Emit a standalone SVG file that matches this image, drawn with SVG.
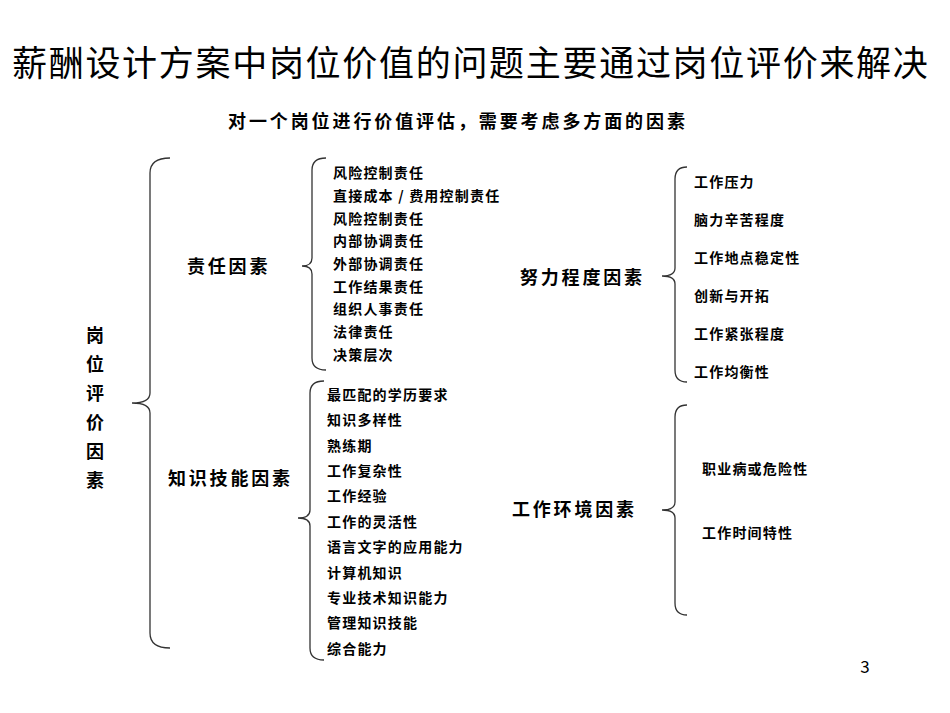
<svg xmlns="http://www.w3.org/2000/svg" width="950" height="713" viewBox="0 0 950 713">
<style>
text{font-family:"Noto Sans CJK SC","Noto Sans",sans-serif;fill:#000}
.it{font-size:14px;font-weight:bold;letter-spacing:1.2px}
.lb{font-size:18px;font-weight:bold;letter-spacing:2.8px}
.br{fill:none;stroke:#333;stroke-width:1.3}
</style>
<rect width="950" height="713" fill="#fff"/>
<text x="12" y="76" font-size="35" letter-spacing="1.7">薪酬设计方案中岗位价值的问题主要通过岗位评价来解决</text>
<text x="228" y="128" font-size="18" font-weight="bold" letter-spacing="2.9">对一个岗位进行价值评估，需要考虑多方面的因素</text>
<g id="connectors">
<path class="br" d="M170,158 Q150,158 150,173 L150,393 Q150,403 132,403 Q150,403 150,413 L150,633 Q150,648 170,648"/>
<path class="br" d="M326,158 Q312,158 312,170 L312,258 Q312,266 302,266 Q312,266 312,274 L312,358 Q312,370 326,370"/>
<path class="br" d="M324,381 Q310,381 310,393 L310,510 Q310,518 298,518 Q310,518 310,526 L310,648 Q310,660 324,660"/>
<path class="br" d="M687,167 Q675,167 675,179 L675,268 Q675,276 662,276 Q675,276 675,284 L675,370 Q675,382 687,382"/>
<path class="br" d="M687,405 Q675,405 675,417 L675,502 Q675,510 662,510 Q675,510 675,518 L675,603 Q675,615 687,615"/>
</g>
<g id="root">
<text x="95" y="342" text-anchor="middle" font-size="18" font-weight="bold">岗</text>
<text x="95" y="371" text-anchor="middle" font-size="18" font-weight="bold">位</text>
<text x="95" y="400" text-anchor="middle" font-size="18" font-weight="bold">评</text>
<text x="95" y="429" text-anchor="middle" font-size="18" font-weight="bold">价</text>
<text x="95" y="458" text-anchor="middle" font-size="18" font-weight="bold">因</text>
<text x="95" y="487" text-anchor="middle" font-size="18" font-weight="bold">素</text>
</g>
<g id="resp"><text class="lb" x="187" y="273">责任因素</text>
<text class="it" x="333" y="178">风险控制责任</text>
<text class="it" x="333" y="201">直接成本 / 费用控制责任</text>
<text class="it" x="333" y="224">风险控制责任</text>
<text class="it" x="333" y="246">内部协调责任</text>
<text class="it" x="333" y="269">外部协调责任</text>
<text class="it" x="333" y="292">工作结果责任</text>
<text class="it" x="333" y="314">组织人事责任</text>
<text class="it" x="333" y="337">法律责任</text>
<text class="it" x="333" y="360">决策层次</text>
</g>
<g id="know"><text class="lb" x="168" y="485">知识技能因素</text>
<text class="it" x="327" y="400">最匹配的学历要求</text>
<text class="it" x="327" y="425">知识多样性</text>
<text class="it" x="327" y="451">熟练期</text>
<text class="it" x="327" y="476">工作复杂性</text>
<text class="it" x="327" y="501">工作经验</text>
<text class="it" x="327" y="527">工作的灵活性</text>
<text class="it" x="327" y="552">语言文字的应用能力</text>
<text class="it" x="327" y="578">计算机知识</text>
<text class="it" x="327" y="603">专业技术知识能力</text>
<text class="it" x="327" y="628">管理知识技能</text>
<text class="it" x="327" y="654">综合能力</text>
</g>
<g id="effort"><text class="lb" x="520" y="284">努力程度因素</text>
<text class="it" x="694" y="187">工作压力</text>
<text class="it" x="694" y="225">脑力辛苦程度</text>
<text class="it" x="694" y="263">工作地点稳定性</text>
<text class="it" x="694" y="301">创新与开拓</text>
<text class="it" x="694" y="339">工作紧张程度</text>
<text class="it" x="694" y="377">工作均衡性</text>
</g>
<g id="env"><text class="lb" x="512" y="516">工作环境因素</text>
<text class="it" x="702" y="474">职业病或危险性</text>
<text class="it" x="702" y="538">工作时间特性</text>
</g>
<text x="865" y="673" font-size="17" font-family="Liberation Serif,serif" text-anchor="middle">3</text>
</svg>
